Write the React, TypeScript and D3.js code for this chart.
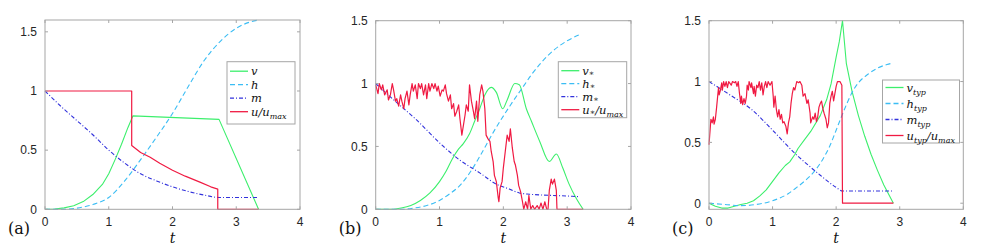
import * as d3 from "d3";

// time ticks and value ticks, shared by the three panels
const xTicks = [0, 1, 2, 3, 4];
const yTicks = [0, 0.5, 1, 1.5];

// panel (a): optimal control
const aV = [[0, 0], [0.15, 0.003], [0.3, 0.012], [0.45, 0.03], [0.6, 0.065], [0.75, 0.125], [0.9, 0.21], [1.0, 0.3], [1.1, 0.42], [1.2, 0.55], [1.3, 0.69], [1.38, 0.79], [2.73, 0.76], [3.35, 0]];
const aH = [[0, 0], [0.25, 0], [0.5, 0.01], [0.75, 0.04], [1.0, 0.1], [1.25, 0.24], [1.5, 0.42], [1.75, 0.61], [2.0, 0.81], [2.25, 1.04], [2.5, 1.26], [2.75, 1.42], [3.0, 1.53], [3.2, 1.58], [3.35, 1.6]];
const aM = [[0, 1], [0.25, 0.87], [0.5, 0.75], [0.75, 0.63], [1.0, 0.5], [1.25, 0.39], [1.5, 0.3], [1.75, 0.24], [2.0, 0.19], [2.25, 0.15], [2.5, 0.12], [2.73, 0.1], [3.35, 0.1]];
const aU = [[0, 1], [1.36, 1], [1.36, 0.54], [1.5, 0.48], [1.65, 0.44], [1.8, 0.39], [2.0, 0.33], [2.2, 0.28], [2.43, 0.23], [2.6, 0.19], [2.71, 0.17], [2.71, 0], [3.35, 0]];

// panel (b): starred trajectories
const bV = [[0, 0], [0.25, 0], [0.4, 0.01], [0.55, 0.03], [0.7, 0.07], [0.85, 0.13], [1.0, 0.22], [1.1, 0.3], [1.2, 0.4], [1.3, 0.48], [1.37, 0.52], [1.47, 0.6], [1.55, 0.7], [1.63, 0.8], [1.71, 0.91], [1.81, 0.97], [1.89, 0.93], [1.99, 0.8], [2.06, 0.87], [2.18, 1.0], [2.25, 0.99], [2.36, 0.8], [2.44, 0.7], [2.57, 0.54], [2.72, 0.38], [2.83, 0.44], [2.93, 0.33], [3.03, 0.2], [3.15, 0.08], [3.25, 0]];
const bH = [[0, 0], [0.4, 0], [0.6, 0.01], [0.8, 0.03], [1.0, 0.07], [1.15, 0.12], [1.32, 0.19], [1.5, 0.31], [1.63, 0.42], [1.84, 0.61], [2.1, 0.82], [2.33, 0.99], [2.44, 1.07], [2.6, 1.17], [2.8, 1.27], [3.0, 1.34], [3.2, 1.39]];
const bM = [[0, 1], [0.26, 0.88], [0.62, 0.72], [1.04, 0.51], [1.32, 0.39], [1.63, 0.29], [1.89, 0.2], [2.1, 0.16], [2.25, 0.13], [2.41, 0.12], [3.03, 0.105], [3.2, 0.1]];
const bU = [[0, 0.99], [0.036, 0.92], [0.057, 1.0], [0.089, 0.95], [0.11, 0.99], [0.14, 0.91], [0.18, 0.95], [0.2, 0.87], [0.23, 0.91], [0.26, 1.0], [0.28, 0.95], [0.31, 0.86], [0.33, 0.88], [0.36, 0.82], [0.39, 0.91], [0.41, 0.86], [0.44, 0.8], [0.46, 0.88], [0.49, 0.94], [0.52, 0.83], [0.54, 0.91], [0.57, 1.0], [0.59, 0.94], [0.62, 0.99], [0.65, 0.88], [0.67, 1.0], [0.7, 0.96], [0.72, 1.0], [0.75, 0.91], [0.78, 0.99], [0.8, 0.88], [0.83, 1.0], [0.85, 0.94], [0.88, 1.0], [0.91, 0.96], [0.93, 1.0], [0.96, 0.94], [0.98, 0.98], [1.01, 0.9], [1.04, 0.95], [1.06, 0.94], [1.09, 0.99], [1.11, 0.92], [1.14, 0.86], [1.17, 0.91], [1.19, 0.8], [1.22, 0.84], [1.24, 0.74], [1.27, 0.78], [1.3, 0.83], [1.32, 0.72], [1.35, 0.59], [1.4, 0.75], [1.42, 0.83], [1.45, 0.78], [1.47, 0.99], [1.5, 0.86], [1.53, 0.78], [1.55, 0.72], [1.58, 0.86], [1.6, 0.7], [1.63, 0.91], [1.66, 0.99], [1.68, 0.94], [1.71, 0.8], [1.73, 0.59], [1.76, 0.56], [1.79, 0.54], [1.81, 0.46], [1.84, 0.38], [1.86, 0.27], [1.89, 0.22], [1.92, 0.09], [1.93, 0.06], [1.95, 0.17], [1.98, 0.22], [2.0, 0.33], [2.03, 0.46], [2.06, 0.59], [2.09, 0.54], [2.11, 0.64], [2.14, 0.49], [2.17, 0.38], [2.19, 0.35], [2.22, 0.27], [2.24, 0.19], [2.27, 0.14], [2.3, 0.06], [2.32, 0], [2.35, 0.06], [2.38, 0], [2.4, 0.11], [2.43, 0], [2.46, 0.03], [2.49, 0], [2.53, 0.03], [2.56, 0], [2.59, 0.05], [2.62, 0], [2.65, 0.06], [2.68, 0], [2.7, 0], [2.72, 0.15], [2.75, 0.24], [2.77, 0.2], [2.8, 0.24], [2.83, 0.15], [2.84, 0], [3.25, 0]];

// panel (c): typical trajectories
const cV = [[0, 0], [0.1, -0.025], [0.2, -0.04], [0.3, -0.04], [0.4, -0.025], [0.5, -0.01], [0.6, 0], [0.7, 0.02], [0.8, 0.06], [0.9, 0.11], [1.0, 0.18], [1.1, 0.25], [1.2, 0.31], [1.27, 0.34], [1.35, 0.4], [1.4, 0.45], [1.5, 0.52], [1.6, 0.59], [1.75, 0.72], [1.85, 0.85], [1.92, 0.98], [2.0, 1.2], [2.05, 1.33], [2.1, 1.5], [2.16, 1.15], [2.25, 0.92], [2.35, 0.72], [2.45, 0.55], [2.55, 0.4], [2.65, 0.27], [2.75, 0.15], [2.9, 0]];
const cH = [[0, 0], [0.25, -0.01], [0.5, -0.02], [0.75, -0.01], [1.0, 0.02], [1.25, 0.08], [1.38, 0.13], [1.5, 0.18], [1.67, 0.27], [1.8, 0.37], [1.9, 0.47], [2.0, 0.6], [2.09, 0.72], [2.17, 0.82], [2.24, 0.9], [2.35, 0.99], [2.5, 1.06], [2.65, 1.11], [2.8, 1.14], [2.88, 1.15]];
const cM = [[0, 1], [0.33, 0.89], [0.67, 0.77], [1.0, 0.6], [1.2, 0.49], [1.35, 0.41], [1.5, 0.34], [1.75, 0.23], [2.0, 0.13], [2.1, 0.1], [2.9, 0.1]];
const cU = [[0, 0.48], [0.01, 0.55], [0.03, 0.69], [0.05, 0.66], [0.07, 0.71], [0.08, 0.65], [0.1, 0.69], [0.12, 0.79], [0.14, 0.9], [0.15, 0.95], [0.16, 0.89], [0.18, 0.93], [0.2, 0.99], [0.21, 0.93], [0.23, 1.0], [0.25, 0.96], [0.27, 1.0], [0.29, 0.95], [0.31, 1.0], [0.35, 0.97], [0.37, 1.0], [0.4, 0.99], [0.42, 1.0], [0.44, 0.96], [0.46, 1.0], [0.48, 0.9], [0.5, 0.82], [0.51, 0.88], [0.53, 0.81], [0.55, 0.86], [0.57, 0.82], [0.59, 0.88], [0.6, 0.97], [0.62, 0.93], [0.63, 1.0], [0.66, 0.95], [0.67, 0.99], [0.7, 0.9], [0.71, 0.96], [0.73, 0.88], [0.75, 0.97], [0.77, 0.95], [0.79, 1.0], [0.81, 0.93], [0.83, 0.99], [0.85, 0.89], [0.87, 0.96], [0.89, 1.0], [0.91, 0.95], [0.93, 1.0], [0.96, 0.97], [0.99, 1.0], [1.01, 0.88], [1.02, 0.79], [1.04, 0.88], [1.06, 0.77], [1.08, 0.71], [1.1, 0.77], [1.12, 0.69], [1.14, 0.73], [1.16, 0.66], [1.18, 0.67], [1.21, 0.63], [1.23, 0.57], [1.25, 0.66], [1.27, 0.71], [1.29, 0.82], [1.31, 0.9], [1.33, 0.95], [1.35, 0.93], [1.38, 1.0], [1.41, 0.99], [1.43, 1.0], [1.46, 0.97], [1.48, 0.88], [1.51, 0.9], [1.54, 0.82], [1.56, 0.85], [1.59, 0.74], [1.6, 0.66], [1.63, 0.71], [1.65, 0.69], [1.67, 0.74], [1.69, 0.67], [1.71, 0.71], [1.73, 0.79], [1.75, 0.82], [1.77, 0.84], [1.79, 0.78], [1.81, 0.74], [1.84, 0.69], [1.86, 0.62], [1.88, 0.66], [1.9, 0.82], [1.92, 0.88], [1.94, 0.92], [1.96, 0.84], [1.98, 0.9], [2.0, 0.96], [2.02, 1.0], [2.06, 1.0], [2.09, 0.97], [2.1, 0], [2.9, 0]];

// legend labels: [text, isSubscript] pieces
const labelsA = [[["v", false]], [["h", false]], [["m", false]], [["u/u", false], ["max", true]]];
const labelsB = [[["v", false], ["∗", true]], [["h", false], ["∗", true]], [["m", false], ["∗", true]], [["u", false], ["∗", true], ["/u", false], ["max", true]]];
const labelsC = [[["v", false], ["typ", true]], [["h", false], ["typ", true]], [["m", false], ["typ", true]], [["u", false], ["typ", true], ["/u", false], ["max", true]]];

const tags = ["(a)", "(b)", "(c)"];

const GREEN = "#3cef6c";
const CYAN = "#3bbdf4";
const BLUE = "#3232dc";
const RED = "#f01a42";
const styles = [
    {stroke: GREEN, dash: null, w: 1.1},
    {stroke: CYAN, dash: "5,3", w: 1.1},
    {stroke: BLUE, dash: "4,2,1,2", w: 1.1},
    {stroke: RED, dash: null, w: 1.2},
];

const BOX = "#a6a6a6";
const TXT = "#262626";

const Label = ({parts, x, y}) => {
    let shift = 0;
    return (
        <text x={x} y={y} fontFamily="DejaVu Serif" fontStyle="italic" fontSize={11.5} fill="#111">
            {parts.map(([s, sub], i) => {
                const target = sub ? (s === "∗" ? 1.5 : 3) : 0;
                const dy = target - shift;
                shift = target;
                return <tspan key={i} dy={dy} fontSize={sub ? 8 : 11.5}>{s}</tspan>;
            })}
        </text>
    );
};

const Panel = ({box, yDomain, series, smooth, labels, legend, tag}) => {
    const x = d3.scaleLinear().domain([0, 4]).range([box.left, box.right]);
    const y = d3.scaleLinear().domain(yDomain).range([box.bottom, box.top]);
    const curved = d3.line().x(d => x(d[0])).y(d => y(d[1])).curve(d3.curveMonotoneX);
    const sharp = d3.line().x(d => x(d[0])).y(d => y(d[1]));
    const tk = 3;
    return (
        <g>
            {series.map((s, i) => (
                <path key={i} d={(smooth[i] ? curved : sharp)(s)} fill="none" stroke={styles[i].stroke}
                      strokeWidth={styles[i].w} strokeDasharray={styles[i].dash || undefined}
                      strokeLinejoin="round"/>
            ))}
            <rect x={box.left} y={box.top} width={box.right - box.left} height={box.bottom - box.top}
                  fill="none" stroke={BOX} strokeWidth={1}/>
            {xTicks.map(t => (
                <g key={"x" + t}>
                    <line x1={x(t)} x2={x(t)} y1={box.bottom} y2={box.bottom - tk} stroke={BOX}/>
                    <line x1={x(t)} x2={x(t)} y1={box.top} y2={box.top + tk} stroke={BOX}/>
                    <text x={x(t)} y={box.bottom + 17} textAnchor="middle" fontFamily="Liberation Sans"
                          fontSize={12} fill={TXT}>{t}</text>
                </g>
            ))}
            {yTicks.map(t => (
                <g key={"y" + t}>
                    <line x1={box.left} x2={box.left + tk} y1={y(t)} y2={y(t)} stroke={BOX}/>
                    <line x1={box.right} x2={box.right - tk} y1={y(t)} y2={y(t)} stroke={BOX}/>
                    <text x={box.left - 8} y={y(t) + 4.3} textAnchor="end" fontFamily="Liberation Sans"
                          fontSize={12} fill={TXT}>{t}</text>
                </g>
            ))}
            <text x={(box.left + box.right) / 2} y={243} textAnchor="middle" fontFamily="DejaVu Serif"
                  fontStyle="italic" fontSize={14} fill="#111">t</text>
            <text x={box.left - 37} y={234} fontFamily="DejaVu Serif" fontSize={16} fill="#111">{tag}</text>
            <rect x={legend.x} y={legend.y} width={legend.w} height={legend.h} fill="#fff" stroke={BOX}/>
            {labels.map((parts, i) => {
                const ry = legend.y + legend.first + i * legend.step;
                return (
                    <g key={"l" + i}>
                        <line x1={legend.x + 3} x2={legend.x + 21} y1={ry} y2={ry} stroke={styles[i].stroke}
                              strokeWidth={1.3} strokeDasharray={styles[i].dash || undefined}/>
                        <Label parts={parts} x={legend.x + 24} y={ry + 4}/>
                    </g>
                );
            })}
        </g>
    );
};

export default function App() {
    const panels = [
        {box: {left: 45, right: 300, top: 20, bottom: 209.3}, yDomain: [0, 1.6], series: [aV, aH, aM, aU],
            smooth: [false, true, true, false],
            labels: labelsA, legend: {x: 227, y: 61.7, w: 68, h: 62.3, first: 9.5, step: 13.5}},
        {box: {left: 375.7, right: 631, top: 20.7, bottom: 209.3}, yDomain: [0, 1.5], series: [bV, bH, bM, bU],
            smooth: [true, true, true, false],
            labels: labelsB, legend: {x: 558.3, y: 61.7, w: 68.4, h: 56, first: 9, step: 13}},
        {box: {left: 709, right: 963.3, top: 20.7, bottom: 209.3}, yDomain: [-0.05, 1.5], series: [cV, cH, cM, cU],
            smooth: [false, true, true, false],
            labels: labelsC, legend: {x: 882.5, y: 80, w: 77, h: 63, first: 7.5, step: 16}},
    ];
    return (
        <svg width={996} height={251} style={{position: "absolute", left: 0, top: 0, background: "#fff"}}>
            {panels.map((p, i) => <Panel key={i} {...p} tag={tags[i]}/>)}
        </svg>
    );
}
